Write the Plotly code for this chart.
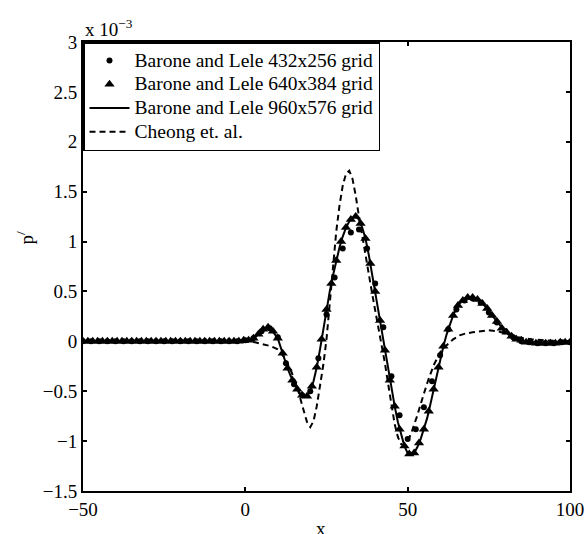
import plotly.graph_objects as go

# values in units of 1e-3
x_432 = [-50, -47.5, -45, -42.5, -40, -37.5, -35, -32.5, -30, -27.5,
         -25, -22.5, -20, -17.5, -15, -12.5, -10, -7.5, -5, -2.5,
         0, 2.5, 5, 7.5, 10, 12.5, 15, 17.5, 20, 22.5,
         25, 27.5, 30, 32.5, 35, 37.5, 40, 42.5, 45, 47.5,
         50, 52.5, 55, 57.5, 60, 62.5, 65, 67.5, 70, 72.5,
         75, 77.5, 80, 82.5, 85, 87.5, 90, 92.5, 95, 97.5, 100]
p_432 = [0.0, 0.0, 0.0, 0.0, 0.0, 0.0, 0.0, 0.0, 0.0, 0.0,
         0.0, 0.0, 0.0, 0.0, 0.0, 0.0, 0.0, 0.0, 0.0, 0.0,
         0.01, 0.03, 0.10, 0.13, 0.04, -0.22, -0.43, -0.54, -0.50, -0.17,
         0.27, 0.64, 0.93, 1.09, 1.12, 0.93, 0.58, 0.14, -0.35, -0.74,
         -0.98, -0.88, -0.66, -0.40, -0.14, 0.12, 0.32, 0.41, 0.43, 0.39,
         0.29, 0.19, 0.10, 0.04, 0.00, -0.01, -0.02, -0.02, -0.02, -0.01, -0.01]

x_640 = [-50, -48.5, -47, -45.5, -44, -42.5, -41, -39.5, -38, -36.5,
         -35, -33.5, -32, -30.5, -29, -27.5, -26, -24.5, -23, -21.5,
         -20, -18.5, -17, -15.5, -14, -12.5, -11, -9.5, -8, -6.5,
         -5, -3.5, -2, -0.5, 1, 2.5, 4, 5.5, 7, 8.5,
         10, 11.5, 13, 14.5, 16, 17.5, 19, 20.5, 22, 23.5,
         25, 26.5, 28, 29.5, 31, 32.5, 34, 35.5, 37, 38.5,
         40, 41.5, 43, 44.5, 46, 47.5, 49, 50.5, 52, 53.5,
         55, 56.5, 58, 59.5, 61, 62.5, 64, 65.5, 67, 68.5,
         70, 71.5, 73, 74.5, 76, 77.5, 79, 80.5, 82, 83.5,
         85, 86.5, 88, 89.5, 91, 92.5, 94, 95.5, 97, 98.5, 100]
p_640 = [0.0, 0.0, 0.0, 0.0, 0.0, 0.0, 0.0, 0.0, 0.0, 0.0,
         0.0, 0.0, 0.0, 0.0, 0.0, 0.0, 0.0, 0.0, 0.0, 0.0,
         0.0, 0.0, 0.0, 0.0, 0.0, 0.0, 0.0, 0.0, 0.0, 0.0,
         0.0, 0.0, 0.0, 0.01, 0.01, 0.03, 0.07, 0.12, 0.14, 0.10,
         0.03, -0.12, -0.27, -0.39, -0.48, -0.54, -0.55, -0.45, -0.26, 0.02,
         0.32, 0.58, 0.81, 1.00, 1.14, 1.22, 1.25, 1.18, 1.03, 0.78,
         0.50, 0.21, -0.09, -0.39, -0.65, -0.88, -1.05, -1.13, -1.12, -1.02,
         -0.88, -0.70, -0.48, -0.26, -0.05, 0.12, 0.26, 0.36, 0.41, 0.44,
         0.44, 0.42, 0.38, 0.33, 0.26, 0.20, 0.13, 0.09, 0.05, 0.02,
         0.01, -0.01, -0.01, -0.02, -0.02, -0.02, -0.02, -0.02, -0.01, -0.01, -0.01]

x_960 = [-50, -40, -30, -20, -10, -5, -2,
         0, 1, 2, 3, 4, 5, 6, 7, 8, 9,
         10, 11, 12, 13, 14, 15, 16, 17, 18, 19,
         20, 21, 22, 23, 24, 25, 26, 27, 28, 29,
         30, 31, 32, 33, 34, 35, 36, 37, 38, 39,
         40, 41, 42, 43, 44, 45, 46, 47, 48, 49,
         50, 51, 52, 53, 54, 55, 56, 57, 58, 59,
         60, 61, 62, 63, 64, 65, 66, 67, 68, 69,
         70, 71, 72, 73, 74, 75, 76, 77, 78, 79,
         80, 81, 82, 83, 84, 85, 86, 87, 88, 89,
         90, 92, 94, 96, 98, 100]
p_960 = [0.0, 0.0, 0.0, 0.0, 0.0, 0.0, 0.005,
         0.01, 0.01, 0.02, 0.04, 0.07, 0.11, 0.13, 0.14, 0.12, 0.08,
         0.03, -0.07, -0.18, -0.27, -0.35, -0.42, -0.48, -0.53, -0.55, -0.55,
         -0.50, -0.40, -0.26, -0.08, 0.12, 0.32, 0.50, 0.66, 0.81, 0.94,
         1.05, 1.14, 1.20, 1.24, 1.25, 1.22, 1.14, 1.03, 0.87, 0.68,
         0.50, 0.31, 0.11, -0.09, -0.29, -0.48, -0.65, -0.81, -0.94, -1.05,
         -1.12, -1.14, -1.12, -1.06, -0.98, -0.88, -0.77, -0.63, -0.48, -0.33,
         -0.19, -0.05, 0.07, 0.17, 0.26, 0.33, 0.38, 0.41, 0.43, 0.44,
         0.44, 0.43, 0.41, 0.38, 0.35, 0.31, 0.26, 0.22, 0.17, 0.13,
         0.10, 0.07, 0.05, 0.03, 0.02, 0.01, 0.00, -0.01, -0.01, -0.02,
         -0.02, -0.02, -0.02, -0.01, -0.01, -0.01]

x_cheong = [-50, -30, -10, 0, 3, 6, 8, 10, 12, 14, 16, 17.5, 19, 20, 21, 22, 23, 24,
            25, 26, 27, 28, 29, 30, 31, 32, 33, 34, 35, 36, 37, 38, 39,
            40, 41, 42, 43, 44, 45, 46, 47, 48, 49, 50, 51, 52, 53, 54,
            56, 58, 60, 62, 64, 66, 68, 70, 72, 75, 78, 81, 84, 88, 92, 100]
p_cheong = [0.0, 0.0, 0.0, 0.0, -0.01, -0.03, -0.05, -0.08, -0.16, -0.29, -0.46, -0.64, -0.81, -0.86, -0.80, -0.65, -0.46, -0.24,
            0.02, 0.38, 0.78, 1.10, 1.36, 1.56, 1.68, 1.71, 1.63, 1.46, 1.25, 1.05, 0.86, 0.67, 0.49,
            0.31, 0.14, -0.04, -0.22, -0.43, -0.64, -0.83, -0.96, -1.03, -1.04, -1.00, -0.93, -0.84, -0.74, -0.63,
            -0.42, -0.24, -0.11, -0.04, 0.02, 0.06, 0.08, 0.09, 0.10, 0.11, 0.10, 0.07, 0.04, 0.02, 0.01, 0.0]

names = ["Barone and Lele 432x256 grid", "Barone and Lele 640x384 grid",
         "Barone and Lele 960x576 grid", "Cheong et. al."]

x_ticks = [-50, 0, 50, 100]
x_ticktext = ["\u221250", "0", "50", "100"]
y_ticks = [-1.5, -1, -0.5, 0, 0.5, 1, 1.5, 2, 2.5, 3]
y_ticktext = ["\u22121.5", "\u22121", "\u22120.5", "0", "0.5", "1", "1.5", "2", "2.5", "3"]

FONT = "Liberation Serif"


def leg(name):
    return '<span style="font-size:19.5px">' + name + '</span>'


fig = go.Figure()
fig.add_trace(go.Scatter(x=x_432, y=p_432, mode="markers", name=leg(names[0]),
                         marker=dict(symbol="circle", size=6, color="black")))
fig.add_trace(go.Scatter(x=x_640, y=p_640, mode="markers", name=leg(names[1]),
                         marker=dict(symbol="triangle-up", size=9, color="black")))
fig.add_trace(go.Scatter(x=x_960, y=p_960, mode="lines", name=leg(names[2]),
                         line=dict(color="black", width=2)))
fig.add_trace(go.Scatter(x=x_cheong, y=p_cheong, mode="lines", name=leg(names[3]),
                         line=dict(color="black", width=2, dash="6px,4px")))

axis_common = dict(showgrid=False, zeroline=False, showline=True, linecolor="black",
                   linewidth=2, mirror="ticks", ticks="inside", ticklen=4, tickwidth=1.5,
                   tickcolor="black", automargin=False,
                   tickfont=dict(family=FONT, size=19, color="black"))

fig.update_xaxes(range=[-50, 100], tickvals=x_ticks, ticktext=x_ticktext, **axis_common)
fig.update_yaxes(range=[-1.5, 3], tickvals=y_ticks, ticktext=y_ticktext, **axis_common)

fig.update_layout(
    width=586, height=534,
    margin=dict(l=83, r=16, t=42, b=43, autoexpand=False),
    plot_bgcolor="white", paper_bgcolor="white",
    font=dict(family=FONT, size=19, color="black"),
    legend=dict(x=0, y=1, xanchor="left", yanchor="top", bgcolor="white",
                bordercolor="black", borderwidth=1.5, itemwidth=40,
                font=dict(family=FONT, size=16, color="black"), tracegroupgap=0),
    annotations=[
        dict(text="x 10<sup>\u22123</sup>", xref="paper", yref="paper", x=0, y=1,
             xanchor="left", yanchor="bottom", showarrow=False,
             font=dict(family=FONT, size=19, color="black")),
        dict(text="p<sup>/</sup>", xref="paper", yref="paper", x=-0.12, y=0.5635,
             textangle=-90, xanchor="center", yanchor="middle", showarrow=False,
             font=dict(family=FONT, size=19, color="black")),
        dict(text="x", xref="paper", yref="paper", x=0.488, y=-0.0557,
             xanchor="center", yanchor="top", showarrow=False,
             font=dict(family=FONT, size=19, color="black")),
    ],
)

fig.write_html("out.html")
